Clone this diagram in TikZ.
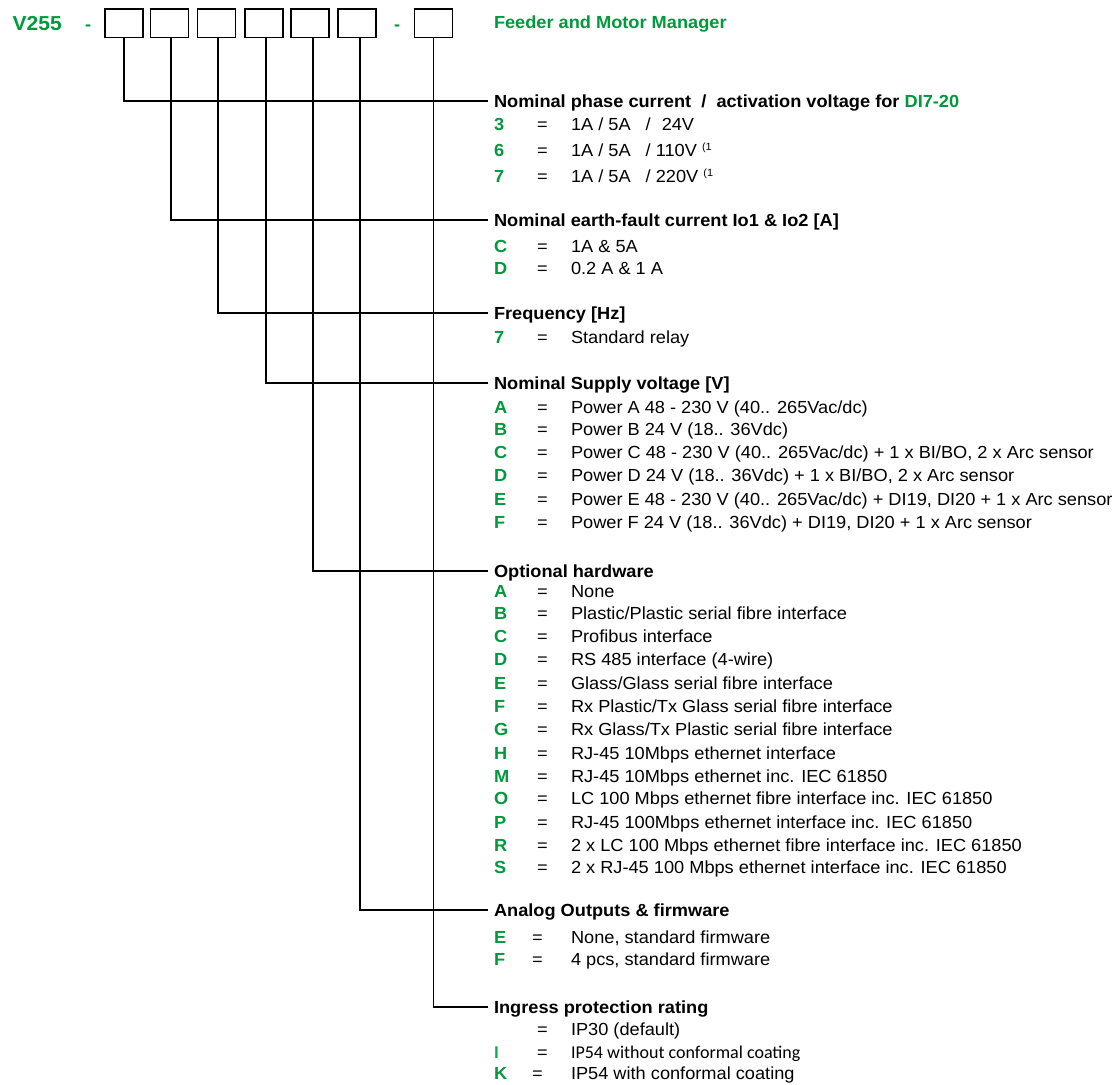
\documentclass[tikz,border=0pt]{standalone}
\usepackage{fontspec}
\setmainfont{Liberation Sans}[FakeStretch=1.04]
\newfontfamily\calfont{Carlito}
\definecolor{vgreen}{RGB}{0,153,60}
\definecolor{lgreen}{RGB}{0,176,80}
\newcommand{\msz}{\fontsize{17.5}{20}\selectfont}
\newcommand{\supone}{\raisebox{0.65ex}{\fontsize{10.5}{12}\selectfont(1}}
\tikzset{
  txt/.style={font=\msz, anchor=base west, inner sep=0pt, outer sep=0pt, yshift=-6.3pt},
  codetxt/.style={txt, font=\msz\bfseries, text=vgreen},
  hdtxt/.style={txt, font=\msz\bfseries},
  cbox/.style={draw, line width=1.8pt, minimum width=38pt, minimum height=28.5pt, inner sep=0pt},
  conn/.style={line width=1.8pt}
}
\newcommand{\R}[5][537]{%
  \node[codetxt] (#2c) at (494,#3) {#4};
  \node[txt] (#2e) at (#1,#3) {=};
  \node[txt] (#2d) at (571,#3) {#5};}
\begin{document}
\begin{tikzpicture}[x=1pt,y=-1pt]
\useasboundingbox (0,0) rectangle (1118,1084);
% title row
\node[codetxt, font=\fontsize{20.2}{22}\selectfont\bfseries, yshift=-1pt] (v255) at (12.7,23.5) {V255};
\node[codetxt] (dash1) at (85,24) {-};
\node[codetxt] (dash2) at (394,24) {-};
\node[codetxt] (title) at (494,22.5) {Feeder and Motor Manager};
\node[cbox] (b1) at (124,23.3) {};
\node[cbox] (b2) at (169.5,23.3) {};
\node[cbox] (b3) at (216.5,23.3) {};
\node[cbox] (b4) at (264,23.3) {};
\node[cbox] (b5) at (310,23.3) {};
\node[cbox] (b6) at (357,23.3) {};
\node[cbox] (b7) at (433.5,23.3) {};
% connector ends
\coordinate (e1) at (488,101);
\coordinate (e2) at (488,220);
\coordinate (e3) at (488,313);
\coordinate (e4) at (488,383);
\coordinate (e5) at (488,571);
\coordinate (e6) at (488,910);
\coordinate (e7) at (488,1007);
\draw[conn] (b1.south) |- (e1);
\draw[conn] ([xshift=1.8pt]b2.south) |- (e2);
\draw[conn] ([xshift=1.5pt]b3.south) |- (e3);
\draw[conn] ([xshift=2pt]b4.south) |- (e4);
\draw[conn] ([xshift=3pt]b5.south) |- (e5);
\draw[conn] ([xshift=2.6pt]b6.south) |- (e6);
\draw[conn] (b7.south) |- (e7);
% group 1
\node[hdtxt] (h1) at (494,101) {Nominal phase current~~/~~activation voltage for \textcolor{vgreen}{DI7-20}};
\R{ga}{124}{3}{1A / 5A\hspace{15pt}/\hspace{11pt}24V}
\R{gb}{150}{6}{1A / 5A\hspace{15pt}/ 110V \supone}
\R{gc}{176}{7}{1A / 5A\hspace{15pt}/ 220V \supone}
% group 2
\node[hdtxt] (h2) at (494,220) {Nominal earth-fault current Io1 \& Io2 [A]};
\R{ea}{246}{C}{1A \& 5A}
\R{eb}{268}{D}{0.2 A \& 1 A}
% group 3
\node[hdtxt] (h3) at (494,313) {Frequency [Hz]};
\R{fa}{337}{7}{Standard relay}
% group 4
\node[hdtxt] (h4) at (494,383) {Nominal Supply voltage [V]};
\R{sa}{407}{A}{Power A 48 - 230 V (40.. 265Vac/dc)}
\R{sb}{429}{B}{Power B 24 V (18.. 36Vdc)}
\R{sc}{452}{C}{Power C 48 - 230 V (40.. 265Vac/dc) + 1 x BI/BO, 2 x Arc sensor}
\R{sd}{475}{D}{Power D 24 V (18.. 36Vdc) + 1 x BI/BO, 2 x Arc sensor}
\R{se}{499}{E}{Power E 48 - 230 V (40.. 265Vac/dc) + DI19, DI20 + 1 x Arc sensor}
\R{sf}{522}{F}{Power F 24 V (18.. 36Vdc) + DI19, DI20 + 1 x Arc sensor}
% group 5
\node[hdtxt] (h5) at (494,571) {Optional hardware};
\R{oa}{591}{A}{None}
\R{ob}{613}{B}{Plastic/Plastic serial fibre interface}
\R{oc}{636}{C}{Profibus interface}
\R{od}{659}{D}{RS 485 interface (4-wire)}
\R{oe}{683}{E}{Glass/Glass serial fibre interface}
\R{of}{706}{F}{Rx Plastic/Tx Glass serial fibre interface}
\R{og}{729}{G}{Rx Glass/Tx Plastic serial fibre interface}
\R{oh}{753}{H}{RJ-45 10Mbps ethernet interface}
\R{om}{776}{M}{RJ-45 10Mbps ethernet inc. IEC 61850}
\R{oo}{798}{O}{LC 100 Mbps ethernet fibre interface inc. IEC 61850}
\R{op}{822}{P}{RJ-45 100Mbps ethernet interface inc. IEC 61850}
\R{or}{845}{R}{2 x LC 100 Mbps ethernet fibre interface inc. IEC 61850}
\R{os}{867}{S}{2 x RJ-45 100 Mbps ethernet interface inc. IEC 61850}
% group 6
\node[hdtxt] (h6) at (494,910) {Analog Outputs \& firmware};
\R[532]{aa}{937}{E}{None, standard firmware}
\R[532]{ab}{959}{F}{4 pcs, standard firmware}
% group 7
\node[hdtxt] (h7) at (494,1007) {Ingress protection rating};
\node[txt] (ia) at (537,1029) {=};
\node[txt] (iad) at (571,1029) {IP30 (default)};
\node[txt, font=\calfont\fontsize{18}{20}\selectfont\bfseries, text=lgreen] (ibc) at (494,1052) {I};
\node[txt] (ibe) at (537,1052) {=};
\node[txt, font=\calfont\fontsize{18}{20}\selectfont] (ibd) at (571,1052) {IP54 without conformal coating};
\R[532]{ic}{1073}{K}{IP54 with conformal coating}
\end{tikzpicture}
\end{document}
